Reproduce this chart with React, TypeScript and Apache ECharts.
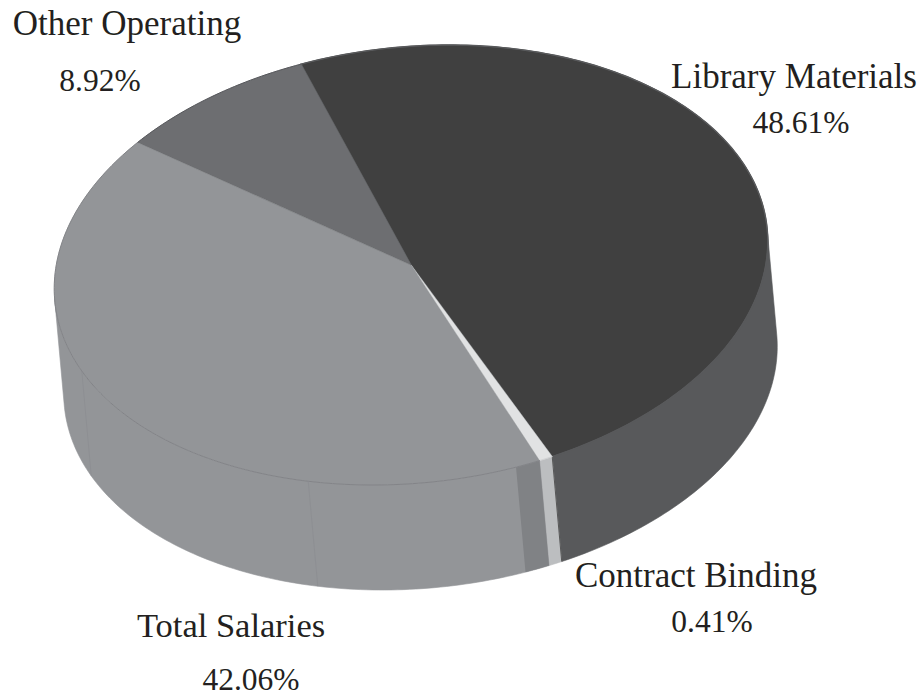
import React, { useEffect, useRef } from "react";
import * as echarts from "echarts";

const categories = ["Library Materials", "Contract Binding", "Total Salaries", "Other Operating"];
const shares = [48.61, 0.41, 42.06, 8.92];
const shareLabels = ["48.61%", "0.41%", "42.06%", "8.92%"];

const topColors = ["#404040", "#e1e2e3", "#939598", "#6d6e71"];
const sideColors = ["#58595b", "#bcbec0", "#939598", "#6d6e71"];
const rimColors = ["#58595b", "#d0d1d3", "#838488", "#55565a"];

const CX = 411, CY = 265, A = 358, B = 218;
const TILT = (6 * Math.PI) / 180;
const SHIFT_X = 9.5, SHIFT_Y = 105;
const START_DEG = 255.7;
const MIN_ANGLE = 2.2;
const FRONT_FROM = 1, FRONT_TO = 181;
const BAND_DEG = 4;
const SEAMS = [110.4, 161];

// swept angles with a pie-like minimum angle
const total = shares.reduce((s, v) => s + v, 0);
const raw = shares.map((v) => (v / total) * 360);
const smallExtra = raw.reduce((s, d) => s + Math.max(0, MIN_ANGLE - d), 0);
const largeSum = raw.filter((d) => d >= MIN_ANGLE).reduce((s, d) => s + d, 0);
const swept = raw.map((d) => (d < MIN_ANGLE ? MIN_ANGLE : d - (d / largeSum) * smallExtra));

function rimPoint(deg: number, dx = 0, dy = 0): number[] {
  const t = (deg * Math.PI) / 180;
  const u = A * Math.cos(t), v = B * Math.sin(t);
  return [CX + u * Math.cos(TILT) + v * Math.sin(TILT) + dx, CY - u * Math.sin(TILT) + v * Math.cos(TILT) + dy];
}
function arc(from: number, to: number, dx = 0, dy = 0): number[][] {
  const pts: number[][] = [];
  const n = Math.max(2, Math.ceil(Math.abs(to - from)));
  for (let i = 0; i <= n; i++) pts.push(rimPoint(from + ((to - from) * i) / n, dx, dy));
  return pts;
}
function wall(from: number, to: number): number[][] {
  return [...arc(from, to), ...arc(to, from, SHIFT_X, SHIFT_Y)];
}

function renderSlice(params: any) {
  const i = params.dataIndex;
  let from = START_DEG;
  for (let k = 0; k < i; k++) from += swept[k];
  const to = from + swept[i];
  const children: any[] = [];
  // visible wall range, in the turn from START_DEG on
  const f = Math.max(from, FRONT_FROM + 360), e = Math.min(to, FRONT_TO + 360);
  if (e > f) {
    children.push({
      type: "polygon",
      shape: { points: wall(f, e) },
      style: { fill: sideColors[i], stroke: sideColors[i], lineWidth: 0.6 },
    });
    if (i === 2) {
      children.push({
        type: "polygon",
        shape: { points: wall(f, f + BAND_DEG) },
        style: { fill: "#808285" },
      });
      SEAMS.forEach((s) => {
        children.push({
          type: "polyline",
          shape: { points: [rimPoint(s + 360), rimPoint(s + 360, SHIFT_X, SHIFT_Y)] },
          style: { stroke: "#8b8c90", lineWidth: 0.7, fill: "none" },
        });
      });
    }
    if (i === 1) {
      children.push({
        type: "polyline",
        shape: { points: [rimPoint(f), rimPoint(f, SHIFT_X, SHIFT_Y)] },
        style: { stroke: "#404040", lineWidth: 0.8, fill: "none" },
      });
    }
  }
  children.push({
    type: "polygon",
    shape: { points: [[CX, CY], ...arc(from, to)] },
    style: i === 0
      ? { fill: topColors[i], stroke: sideColors[i], lineWidth: 1.4 }
      : { fill: topColors[i], stroke: topColors[i], lineWidth: 0.4 },
  });
  children.push({
    type: "polyline",
    shape: { points: arc(from, to) },
    style: { stroke: rimColors[i], lineWidth: 1, fill: "none" },
  });
  return { type: "group", children };
}

const FONT = '"Liberation Serif", serif';
const label = (text: string, x: number, y: number, size: number) => ({
  type: "text",
  x,
  y,
  silent: true,
  style: { text, fill: "#231f20", font: `${size}px ${FONT}`, textAlign: "center", textVerticalAlign: "middle" },
});

export default function App() {
  const ref = useRef<HTMLDivElement>(null);
  useEffect(() => {
    const chart = echarts.init(ref.current!, undefined, { renderer: "svg" });
    chart.setOption({
      animation: false,
      backgroundColor: "#ffffff",
      series: [
        {
          type: "custom",
          coordinateSystem: "none",
          silent: true,
          renderItem: renderSlice,
          data: shares.map((v, i) => ({ name: categories[i], value: [v] })),
        },
      ],
      graphic: [
        label(categories[3], 127, 23.5, 35),
        label(shareLabels[3], 100, 80, 31.5),
        label(categories[0], 794, 76.5, 35),
        label(shareLabels[0], 801, 122, 31.5),
        label(categories[1], 696, 575.5, 35),
        label(shareLabels[1], 712, 621, 31.5),
        label(categories[2], 231, 624.5, 34.5),
        label(shareLabels[2], 251, 679, 31.5),
      ],
    });
    return () => chart.dispose();
  }, []);
  return <div ref={ref} style={{ position: "fixed", left: 0, top: 0, width: 918, height: 696 }} />;
}
